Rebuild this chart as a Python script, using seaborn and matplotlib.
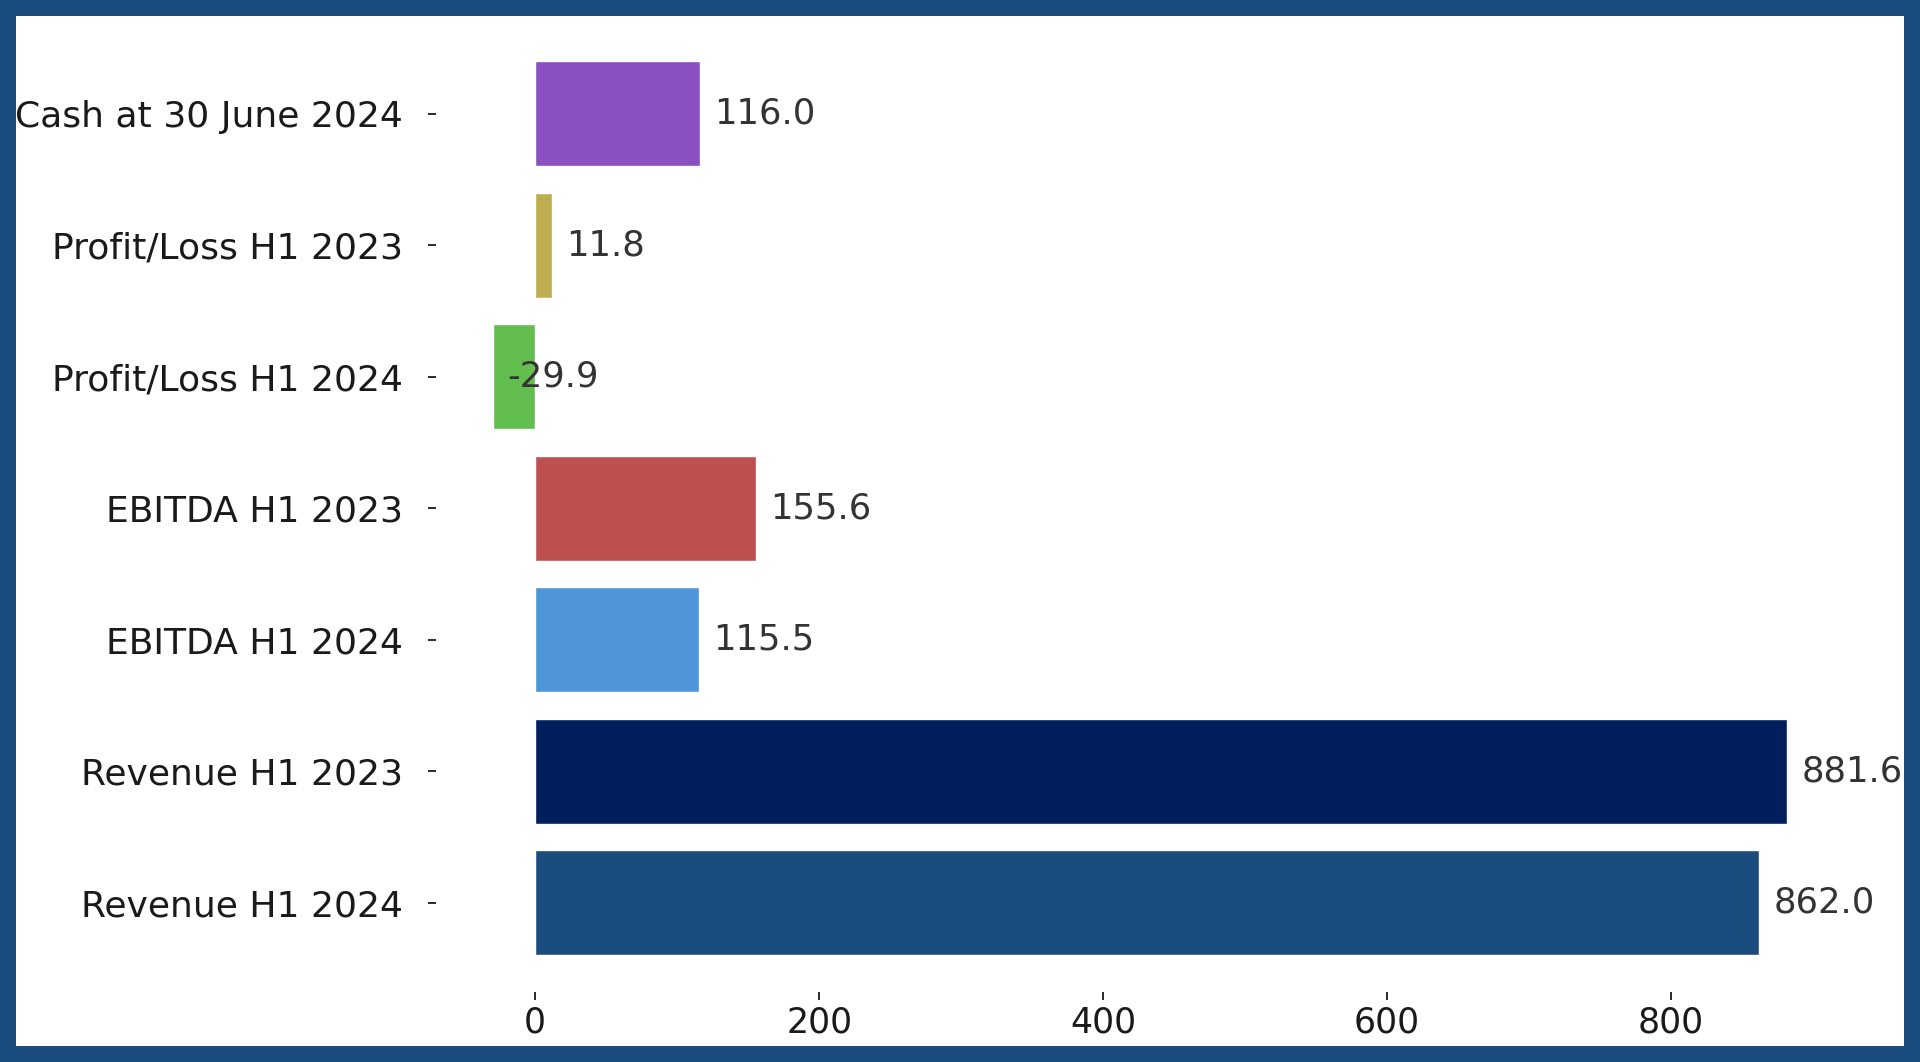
import pandas as pd
import seaborn as sns
import matplotlib.pyplot as plt

sns.set_style('white')

# data, top to bottom as shown
labels = ['Cash at 30 June 2024', 'Profit/Loss H1 2023', 'Profit/Loss H1 2024',
          'EBITDA H1 2023', 'EBITDA H1 2024', 'Revenue H1 2023', 'Revenue H1 2024']
values = [116.0, 11.8, -29.9, 155.6, 115.5, 881.6, 862.0]
colors = ['#8a50bf', '#bfae4f', '#62bf4f', '#bf5050', '#4f96d9', '#001f5c', '#1b4c7e']

df = pd.DataFrame({'Item': labels, 'Value': values})

fig = plt.figure(figsize=(19.2, 10.62), dpi=100, facecolor='white',
                 edgecolor='#1b4c7e', linewidth=23)
ax = fig.add_axes([0.2229, 0.0584, 0.7415, 0.926])
ax.patch.set_alpha(0)

sns.barplot(data=df, x='Value', y='Item', hue='Item', palette=colors,
            saturation=1, legend=False, width=0.8, ax=ax)

# matplotlib-like margins on the category axis
n = len(labels)
pad = 0.4 + 0.05 * (n - 1 + 0.8)
ax.set_ylim(n - 1 + pad, -pad)

for i, v in enumerate(values):
    ax.text(v + 10, i, f'{v:.1f}', va='center', ha='left', fontsize=25.5, color='#333333')

sns.despine(left=True, bottom=True)
ax.set_xlabel('')
ax.set_ylabel('')
ax.tick_params(axis='both', direction='in', length=6, width=1.3, color='#1a1a1a',
               left=True, bottom=True)
ax.tick_params(axis='y', pad=18, labelsize=26, labelcolor='#1a1a1a')
ax.tick_params(axis='x', pad=4, labelsize=25, labelcolor='#1a1a1a')

fig.savefig('out.png', dpi=100)
